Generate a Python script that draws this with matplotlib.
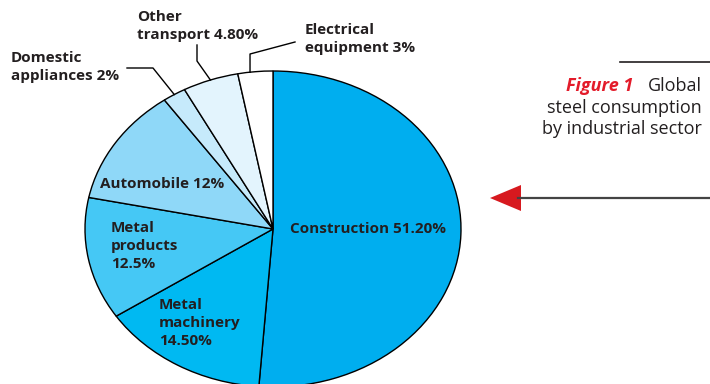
import matplotlib
matplotlib.use("Agg")
import matplotlib.pyplot as plt
import numpy as np

# Datos
sectores = ["Construction", "Metal\nmachinery", "Metal\nproducts", "Automobile",
            "Domestic\nappliances", "Other\ntransport", "Electrical\nequipment"]
porcentajes = [51.2, 14.5, 12.5, 12.0, 2.0, 4.8, 3.0]
etiquetas = ["Construction 51.20%", "Metal\nmachinery\n14.50%", "Metal\nproducts\n12.5%",
             "Automobile 12%", "Domestic\nappliances 2%", "Other\ntransport 4.80%",
             "Electrical\nequipment 3%"]
colores = ["#00AEEF", "#00B9F2", "#45C8F5", "#8FD8F8", "#C6EAFB", "#E3F4FD", "#FFFFFF"]

texto = "#231F20"
rojo = "#D7191F"
fuente = "Open Sans"

# Geometria de la elipse (pixeles de la figura, y hacia abajo)
W, H = 710, 384
cx, cy, rx, ry = 273, 229, 188, 158

fig = plt.figure(figsize=(W / 100, H / 100), dpi=100)

# Ejes del pastel (elipse)
ax = fig.add_axes([(cx - rx) / W, (H - cy - ry) / H, 2 * rx / W, 2 * ry / H])
ax.pie(porcentajes, colors=colores, startangle=90, counterclock=False,
       wedgeprops=dict(edgecolor="black", linewidth=1.0))
ax.set_aspect("auto")
ax.set_xlim(-1, 1)
ax.set_ylim(-1, 1)
ax.axis("off")

# Capa superior en pixeles
ov = fig.add_axes([0, 0, 1, 1], zorder=5)
ov.set_xlim(0, W)
ov.set_ylim(H, 0)
ov.axis("off")
ov.patch.set_alpha(0)

# Angulos de cada sector
acum = np.concatenate([[0], np.cumsum(porcentajes)]) / 100.0


def punto_borde(i, frac=0.5):
    t = acum[i] + frac * (acum[i + 1] - acum[i])
    ang = np.deg2rad(90 - 360 * t)
    return cx + rx * np.cos(ang), cy - ry * np.sin(ang)


kw = dict(fontsize=11, fontweight="bold", color=texto, family=fuente,
          linespacing=1.32, va="center")

# Etiquetas dentro del pastel
ov.text(368, 229, etiquetas[0], ha="center", **kw)
ov.text(159, 323, etiquetas[1], ha="left", **kw)
ov.text(111, 246, etiquetas[2], ha="left", **kw)
ov.text(100, 184, etiquetas[3], ha="left", **kw)

# Etiquetas externas con lineas guia
ov.text(11, 67, etiquetas[4], ha="left", **kw)
ov.text(137, 26, etiquetas[5], ha="left", **kw)
ov.text(305, 39, etiquetas[6], ha="left", **kw)

x4, y4 = punto_borde(4)
ov.plot([127, 153, x4], [68, 68, y4], color="black", lw=1.0)
x5, y5 = punto_borde(5)
ov.plot([197, 197, x5], [45, 61, y5], color="black", lw=1.0)
x6, y6 = punto_borde(6, 0.35)
ov.plot([295, x6, x6], [42, 54, y6], color="black", lw=1.0)

# Titulo de la figura
ov.plot([620, 710], [62, 62], color=texto, lw=1.2)
ov.text(633, 86, "Figure 1", ha="right", va="center", fontsize=13,
        fontstyle="italic", fontweight="bold", color="#E31B2A", family=fuente)
ov.text(702, 86, "Global", ha="right", va="center", fontsize=13,
        color=texto, family=fuente)
ov.text(702, 108, "steel consumption", ha="right", va="center", fontsize=13,
        color=texto, family=fuente)
ov.text(702, 129, "by industrial sector", ha="right", va="center", fontsize=13,
        color=texto, family=fuente)

# Flecha
ov.plot([518, 710], [198, 198], color="#444444", lw=1.6)
ov.add_patch(plt.Polygon([[490, 198], [521, 185], [521, 211]], closed=True,
                         color=rojo, lw=0))

plt.savefig("out.png", dpi=100)
